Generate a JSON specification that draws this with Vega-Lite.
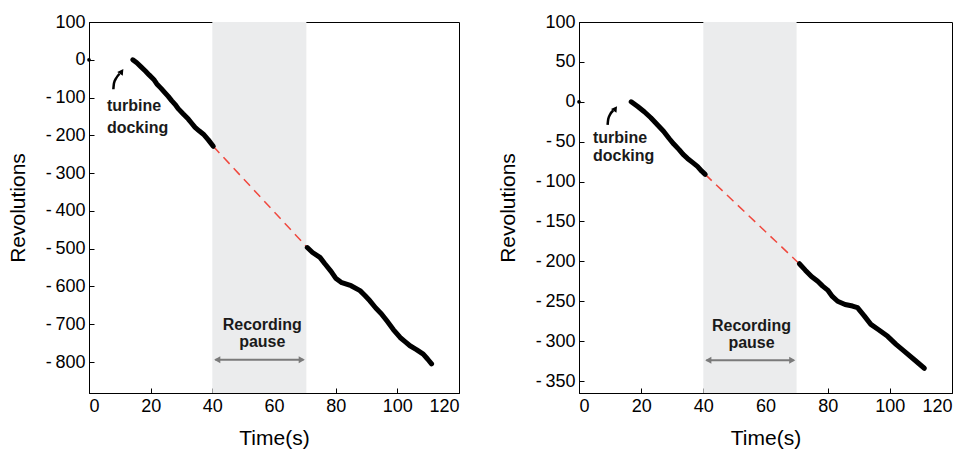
{
  "$schema": "https://vega.github.io/schema/vega-lite/v6.json",
  "background": "white",
  "padding": {"left": 6, "top": 12, "right": 2, "bottom": 5},
  "spacing": 36,
  "config": {
    "font": "Liberation Sans",
    "view": {"stroke": "black", "strokeWidth": 1},
    "axis": {
      "grid": false, "domainColor": "black", "tickColor": "black", "tickSize": -5,
      "labelFont": "Liberation Sans", "labelFontSize": 18, "labelColor": "black", "labelPadding": 9,
      "titleFont": "Liberation Sans", "titleFontSize": 21, "titleFontWeight": "normal", "titleColor": "black"
    }
  },
  "hconcat": [
    {
      "width": 370, "height": 371,
      "layer": [
        {
          "data": {"values": [{"start": 40, "end": 70.5}]},
          "mark": {"type": "rect", "color": "#ebeced"},
          "encoding": {
            "x": {"field": "start", "type": "quantitative", "scale": {"domain": [0, 120], "nice": false}, "axis": {"values": [0, 20, 40, 60, 80, 100, 120], "title": "Time(s)", "titlePadding": 12, "labelExpr": "datum.value + ''"}},
            "x2": {"field": "end"}
          }
        },
        {
          "data": {"values": [{"t": 40.3, "rev": -229}, {"t": 70.8, "rev": -497}]},
          "mark": {"type": "line", "color": "#f0483e", "strokeWidth": 1.5, "strokeDash": [9, 6]},
          "encoding": {
            "x": {"field": "t", "type": "quantitative"},
            "y": {"field": "rev", "type": "quantitative", "scale": {"domain": [-882, 100], "nice": false}, "axis": {"values": [100, 0, -100, -200, -300, -400, -500, -600, -700, -800], "title": "Revolutions", "titlePadding": 17, "labelExpr": "replace(datum.value + '', '-', '-\u2009')"}}
          }
        },
        {
          "data": {"values": [
            {"seg": "a", "t": 14.2, "rev": 0}, {"seg": "a", "t": 15.5, "rev": -8}, {"seg": "a", "t": 16.8, "rev": -18}, {"seg": "a", "t": 18.2, "rev": -29},
            {"seg": "a", "t": 19.5, "rev": -40}, {"seg": "a", "t": 21, "rev": -52}, {"seg": "a", "t": 22, "rev": -64}, {"seg": "a", "t": 23.3, "rev": -75},
            {"seg": "a", "t": 24.6, "rev": -87}, {"seg": "a", "t": 25.7, "rev": -97}, {"seg": "a", "t": 26.8, "rev": -108}, {"seg": "a", "t": 27.9, "rev": -118},
            {"seg": "a", "t": 29, "rev": -130}, {"seg": "a", "t": 30.5, "rev": -143}, {"seg": "a", "t": 32.2, "rev": -157}, {"seg": "a", "t": 33.3, "rev": -168},
            {"seg": "a", "t": 34.4, "rev": -179}, {"seg": "a", "t": 35.7, "rev": -188}, {"seg": "a", "t": 37.1, "rev": -197}, {"seg": "a", "t": 38.7, "rev": -212},
            {"seg": "a", "t": 40.3, "rev": -229},
            {"seg": "b", "t": 70.8, "rev": -497}, {"seg": "b", "t": 72.5, "rev": -510}, {"seg": "b", "t": 74.9, "rev": -523}, {"seg": "b", "t": 76.5, "rev": -540},
            {"seg": "b", "t": 78.5, "rev": -560}, {"seg": "b", "t": 80, "rev": -578}, {"seg": "b", "t": 82, "rev": -590}, {"seg": "b", "t": 85, "rev": -598},
            {"seg": "b", "t": 87.9, "rev": -611}, {"seg": "b", "t": 89.5, "rev": -624}, {"seg": "b", "t": 91.1, "rev": -638}, {"seg": "b", "t": 93, "rev": -657},
            {"seg": "b", "t": 94.8, "rev": -672}, {"seg": "b", "t": 96.6, "rev": -691}, {"seg": "b", "t": 98.7, "rev": -714}, {"seg": "b", "t": 100.9, "rev": -735},
            {"seg": "b", "t": 102.5, "rev": -746}, {"seg": "b", "t": 104.1, "rev": -757}, {"seg": "b", "t": 106.2, "rev": -767}, {"seg": "b", "t": 108.4, "rev": -779},
            {"seg": "b", "t": 109.8, "rev": -792}, {"seg": "b", "t": 111.1, "rev": -805}
          ]},
          "mark": {"type": "line", "color": "black", "strokeWidth": 5, "strokeCap": "round", "strokeJoin": "round"},
          "encoding": {
            "x": {"field": "t", "type": "quantitative"},
            "y": {"field": "rev", "type": "quantitative"},
            "detail": {"field": "seg"}
          }
        },
        {
          "data": {"values": [{"t": 0, "rev": 0}]},
          "mark": {"type": "point", "filled": true, "color": "black", "size": 14, "opacity": 1},
          "encoding": {"x": {"field": "t", "type": "quantitative"}, "y": {"field": "rev", "type": "quantitative"}}
        },
        {
          "data": {"values": [{"t": 7.9, "rev": -78}, {"t": 8.1, "rev": -62}, {"t": 8.8, "rev": -49}, {"t": 9.9, "rev": -37}]},
          "mark": {"type": "line", "color": "black", "strokeWidth": 2.5, "interpolate": "monotone"},
          "encoding": {"x": {"field": "t", "type": "quantitative"}, "y": {"field": "rev", "type": "quantitative"}}
        },
        {
          "data": {"values": [{"t": 10.6, "rev": -31}]},
          "mark": {"type": "point", "shape": "triangle-up", "filled": true, "color": "black", "size": 45, "angle": 35, "opacity": 1},
          "encoding": {"x": {"field": "t", "type": "quantitative"}, "y": {"field": "rev", "type": "quantitative"}}
        },
        {
          "data": {"values": [{"t": 5.8, "rev": -122, "label": "turbine"}, {"t": 5.8, "rev": -180, "label": "docking"}]},
          "mark": {"type": "text", "align": "left", "baseline": "middle", "fontSize": 16, "fontWeight": "bold", "color": "#1a1a1a"},
          "encoding": {"x": {"field": "t", "type": "quantitative"}, "y": {"field": "rev", "type": "quantitative"}, "text": {"field": "label"}}
        },
        {
          "data": {"values": [{"t": 56.2, "rev": -703, "label": "Recording"}, {"t": 56.2, "rev": -748, "label": "pause"}]},
          "mark": {"type": "text", "align": "center", "baseline": "middle", "fontSize": 16, "fontWeight": "bold", "color": "#1a1a1a"},
          "encoding": {"x": {"field": "t", "type": "quantitative"}, "y": {"field": "rev", "type": "quantitative"}, "text": {"field": "label"}}
        },
        {
          "data": {"values": [{"t": 41, "rev": -794}, {"t": 69.5, "rev": -794}]},
          "mark": {"type": "line", "color": "#7a7a7a", "strokeWidth": 2},
          "encoding": {"x": {"field": "t", "type": "quantitative"}, "y": {"field": "rev", "type": "quantitative"}}
        },
        {
          "data": {"values": [{"t": 41.6, "rev": -794, "dir": "triangle-left"}, {"t": 69.0, "rev": -794, "dir": "triangle-right"}]},
          "mark": {"type": "point", "filled": true, "color": "#7a7a7a", "size": 50, "opacity": 1},
          "encoding": {
            "x": {"field": "t", "type": "quantitative"}, "y": {"field": "rev", "type": "quantitative"},
            "shape": {"field": "dir", "type": "nominal", "scale": {"domain": ["triangle-left", "triangle-right"], "range": ["triangle-left", "triangle-right"]}, "legend": null}
          }
        }
      ]
    },
    {
      "width": 373, "height": 371,
      "layer": [
        {
          "data": {"values": [{"start": 40, "end": 70}]},
          "mark": {"type": "rect", "color": "#ebeced"},
          "encoding": {
            "x": {"field": "start", "type": "quantitative", "scale": {"domain": [0, 120], "nice": false}, "axis": {"values": [0, 20, 40, 60, 80, 100, 120], "title": "Time(s)", "titlePadding": 12, "labelExpr": "datum.value + ''"}},
            "x2": {"field": "end"}
          }
        },
        {
          "data": {"values": [{"t": 40.6, "rev": -91}, {"t": 70.9, "rev": -203}]},
          "mark": {"type": "line", "color": "#f0483e", "strokeWidth": 1.5, "strokeDash": [9, 6]},
          "encoding": {
            "x": {"field": "t", "type": "quantitative"},
            "y": {"field": "rev", "type": "quantitative", "scale": {"domain": [-365, 100], "nice": false}, "axis": {"values": [100, 50, 0, -50, -100, -150, -200, -250, -300, -350], "title": "Revolutions", "titlePadding": 17, "labelExpr": "replace(datum.value + '', '-', '-\u2009')"}}
          }
        },
        {
          "data": {"values": [
            {"seg": "a", "t": 16.8, "rev": 0}, {"seg": "a", "t": 18.9, "rev": -6}, {"seg": "a", "t": 21, "rev": -12.5}, {"seg": "a", "t": 23.1, "rev": -20},
            {"seg": "a", "t": 25.3, "rev": -29}, {"seg": "a", "t": 27.2, "rev": -37}, {"seg": "a", "t": 29, "rev": -46}, {"seg": "a", "t": 30.5, "rev": -53},
            {"seg": "a", "t": 32.2, "rev": -60}, {"seg": "a", "t": 33.5, "rev": -66}, {"seg": "a", "t": 34.9, "rev": -71}, {"seg": "a", "t": 36.5, "rev": -76},
            {"seg": "a", "t": 38.1, "rev": -81}, {"seg": "a", "t": 39.5, "rev": -87}, {"seg": "a", "t": 40.6, "rev": -91},
            {"seg": "b", "t": 70.9, "rev": -203}, {"seg": "b", "t": 72.8, "rev": -211}, {"seg": "b", "t": 74.8, "rev": -219}, {"seg": "b", "t": 76.8, "rev": -225},
            {"seg": "b", "t": 78.4, "rev": -231}, {"seg": "b", "t": 80, "rev": -236}, {"seg": "b", "t": 81.5, "rev": -244}, {"seg": "b", "t": 83.2, "rev": -250},
            {"seg": "b", "t": 85.6, "rev": -254}, {"seg": "b", "t": 88, "rev": -256}, {"seg": "b", "t": 89.6, "rev": -258}, {"seg": "b", "t": 91.7, "rev": -268},
            {"seg": "b", "t": 93.9, "rev": -279}, {"seg": "b", "t": 96.5, "rev": -286}, {"seg": "b", "t": 99.3, "rev": -294}, {"seg": "b", "t": 102, "rev": -304},
            {"seg": "b", "t": 104.6, "rev": -312.5}, {"seg": "b", "t": 107.8, "rev": -323}, {"seg": "b", "t": 111.1, "rev": -334}
          ]},
          "mark": {"type": "line", "color": "black", "strokeWidth": 5, "strokeCap": "round", "strokeJoin": "round"},
          "encoding": {
            "x": {"field": "t", "type": "quantitative"},
            "y": {"field": "rev", "type": "quantitative"},
            "detail": {"field": "seg"}
          }
        },
        {
          "data": {"values": [{"t": 0, "rev": 0}]},
          "mark": {"type": "point", "filled": true, "color": "black", "size": 14, "opacity": 1},
          "encoding": {"x": {"field": "t", "type": "quantitative"}, "y": {"field": "rev", "type": "quantitative"}}
        },
        {
          "data": {"values": [{"t": 9.2, "rev": -29}, {"t": 9.4, "rev": -22}, {"t": 10.0, "rev": -16}, {"t": 11.0, "rev": -11}]},
          "mark": {"type": "line", "color": "black", "strokeWidth": 2.5, "interpolate": "monotone"},
          "encoding": {"x": {"field": "t", "type": "quantitative"}, "y": {"field": "rev", "type": "quantitative"}}
        },
        {
          "data": {"values": [{"t": 11.7, "rev": -8.5}]},
          "mark": {"type": "point", "shape": "triangle-up", "filled": true, "color": "black", "size": 45, "angle": 35, "opacity": 1},
          "encoding": {"x": {"field": "t", "type": "quantitative"}, "y": {"field": "rev", "type": "quantitative"}}
        },
        {
          "data": {"values": [{"t": 4.5, "rev": -45, "label": "turbine"}, {"t": 4.5, "rev": -67.5, "label": "docking"}]},
          "mark": {"type": "text", "align": "left", "baseline": "middle", "fontSize": 16, "fontWeight": "bold", "color": "#1a1a1a"},
          "encoding": {"x": {"field": "t", "type": "quantitative"}, "y": {"field": "rev", "type": "quantitative"}, "text": {"field": "label"}}
        },
        {
          "data": {"values": [{"t": 55.5, "rev": -280.5, "label": "Recording"}, {"t": 55.5, "rev": -301.75, "label": "pause"}]},
          "mark": {"type": "text", "align": "center", "baseline": "middle", "fontSize": 16, "fontWeight": "bold", "color": "#1a1a1a"},
          "encoding": {"x": {"field": "t", "type": "quantitative"}, "y": {"field": "rev", "type": "quantitative"}, "text": {"field": "label"}}
        },
        {
          "data": {"values": [{"t": 41, "rev": -324}, {"t": 69, "rev": -324}]},
          "mark": {"type": "line", "color": "#7a7a7a", "strokeWidth": 2},
          "encoding": {"x": {"field": "t", "type": "quantitative"}, "y": {"field": "rev", "type": "quantitative"}}
        },
        {
          "data": {"values": [{"t": 41.6, "rev": -324, "dir": "triangle-left"}, {"t": 68.6, "rev": -324, "dir": "triangle-right"}]},
          "mark": {"type": "point", "filled": true, "color": "#7a7a7a", "size": 50, "opacity": 1},
          "encoding": {
            "x": {"field": "t", "type": "quantitative"}, "y": {"field": "rev", "type": "quantitative"},
            "shape": {"field": "dir", "type": "nominal", "scale": {"domain": ["triangle-left", "triangle-right"], "range": ["triangle-left", "triangle-right"]}, "legend": null}
          }
        }
      ]
    }
  ]
}
